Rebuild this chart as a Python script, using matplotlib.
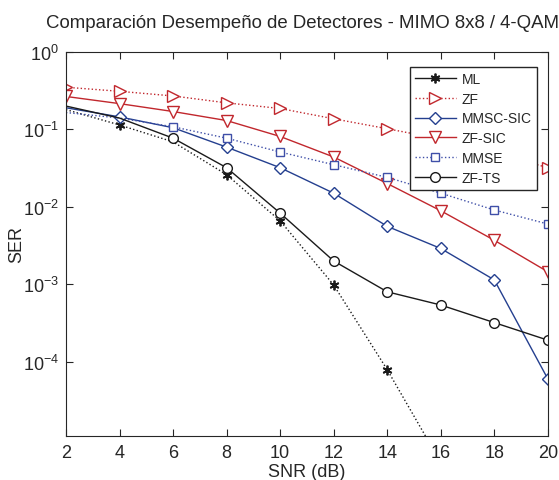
import matplotlib.pyplot as plt
from matplotlib.lines import Line2D

plt.rcParams['font.family'] = ['Liberation Sans', 'DejaVu Sans']
plt.rcParams['font.size'] = 13
plt.rcParams['text.color'] = '#262626'
plt.rcParams['axes.labelcolor'] = '#262626'
plt.rcParams['mathtext.fontset'] = 'custom'
plt.rcParams['mathtext.rm'] = 'Liberation Sans'
plt.rcParams['mathtext.it'] = 'Liberation Sans:italic'
plt.rcParams['mathtext.bf'] = 'Liberation Sans:bold'

# SER vs SNR
snr = [2, 4, 6, 8, 10, 12, 14, 16, 18, 20]
snr_ml = [2, 4, 6, 8, 10, 12, 14, 16]
ser_ml = [0.18, 0.114, 0.069, 0.026, 0.0066, 0.00098, 0.000079, 0.000005]
ser_zf = [0.35, 0.31, 0.27, 0.22, 0.186, 0.137, 0.102, 0.075, 0.05, 0.032]
ser_mmsc_sic = [0.19, 0.145, 0.105, 0.059, 0.032, 0.015, 0.0056, 0.0029, 0.00114, 0.00006]
ser_zf_sic = [0.266, 0.215, 0.17, 0.13, 0.081, 0.044, 0.020, 0.0089, 0.0037, 0.00145]
ser_mmse = [0.165, 0.14, 0.108, 0.077, 0.051, 0.035, 0.024, 0.015, 0.0091, 0.006]
ser_zf_ts = [0.2, 0.14, 0.077, 0.032, 0.0083, 0.002, 0.0008, 0.00054, 0.00032, 0.00019]

red = '#C1272D'
blue = '#243F8F'
blue2 = '#3F4FA8'
blk = '#1a1a1a'
star = (6, 2, 0)

fig = plt.figure(figsize=(5.59, 4.81), dpi=100)
ax = fig.add_axes([0.118, 0.0915, 0.862, 0.7985])

ax.plot(snr_ml, ser_ml, ':', color=blk, lw=1, marker=star, ms=7, mew=1.3,
        markevery=[1, 3, 4, 5, 6])
ax.plot(snr, ser_zf, ':', color=red, lw=1, marker='>', ms=9, mfc='white')
ax.plot(snr, ser_mmsc_sic, '-', color=blue, lw=1, marker='D', ms=6, mfc='white',
        markevery=[1, 3, 4, 5, 6, 7, 8, 9])
ax.plot(snr, ser_zf_sic, '-', color=red, lw=1, marker='v', ms=9, mfc='white')
ax.plot(snr, ser_mmse, ':', color=blue2, lw=1, marker='s', ms=6, mfc='white',
        markevery=list(range(2, 10)))
ax.plot(snr, ser_zf_ts, '-', color=blk, lw=1, marker='o', ms=7, mfc='white',
        markevery=list(range(2, 10)))

ax.set_yscale('log')
ax.set_xlim(2, 20)
ax.set_ylim(1.1e-5, 1)
ax.set_xticks(range(2, 21, 2))
ax.set_yticks([1e-4, 1e-3, 1e-2, 1e-1, 1])
ax.minorticks_off()
ax.tick_params(direction='in', top=True, right=True, length=5, colors='#262626',
               labelsize=13)
ax.tick_params(axis='x', pad=6)
ax.tick_params(axis='y', pad=5)
for s in ax.spines.values():
    s.set_color('#262626')

ax.set_title('Comparación Desempeño de Detectores - MIMO 8x8 / 4-QAM',
             fontsize=13.4, pad=18, x=0.49)
ax.set_xlabel('SNR (dB)', labelpad=1)
ax.set_ylabel('SER')
ax.yaxis.set_label_coords(-0.085, 0.5)

handles = [
    Line2D([], [], ls='-', color=blk, lw=1, marker=star, ms=7, mew=1.3),
    Line2D([], [], ls=':', color=red, lw=1, marker='>', ms=9, mfc='white'),
    Line2D([], [], ls='-', color=blue, lw=1, marker='D', ms=6, mfc='white'),
    Line2D([], [], ls='-', color=red, lw=1, marker='v', ms=9, mfc='white'),
    Line2D([], [], ls=':', color=blue2, lw=1, marker='s', ms=6, mfc='white'),
    Line2D([], [], ls='-', color=blk, lw=1, marker='o', ms=7, mfc='white'),
]
labels = ['ML', 'ZF', 'MMSC-SIC', 'ZF-SIC', 'MMSE', 'ZF-TS']
leg = ax.legend(handles, labels, loc='upper right', bbox_to_anchor=(0.977, 0.961),
                fancybox=False, edgecolor='#262626', framealpha=1,
                handlelength=3, numpoints=1, labelspacing=0.42,
                borderpad=0.35, handletextpad=0.4, borderaxespad=0,
                fontsize=10)
leg.get_frame().set_linewidth(1)

fig.savefig('out.png', dpi=100)
